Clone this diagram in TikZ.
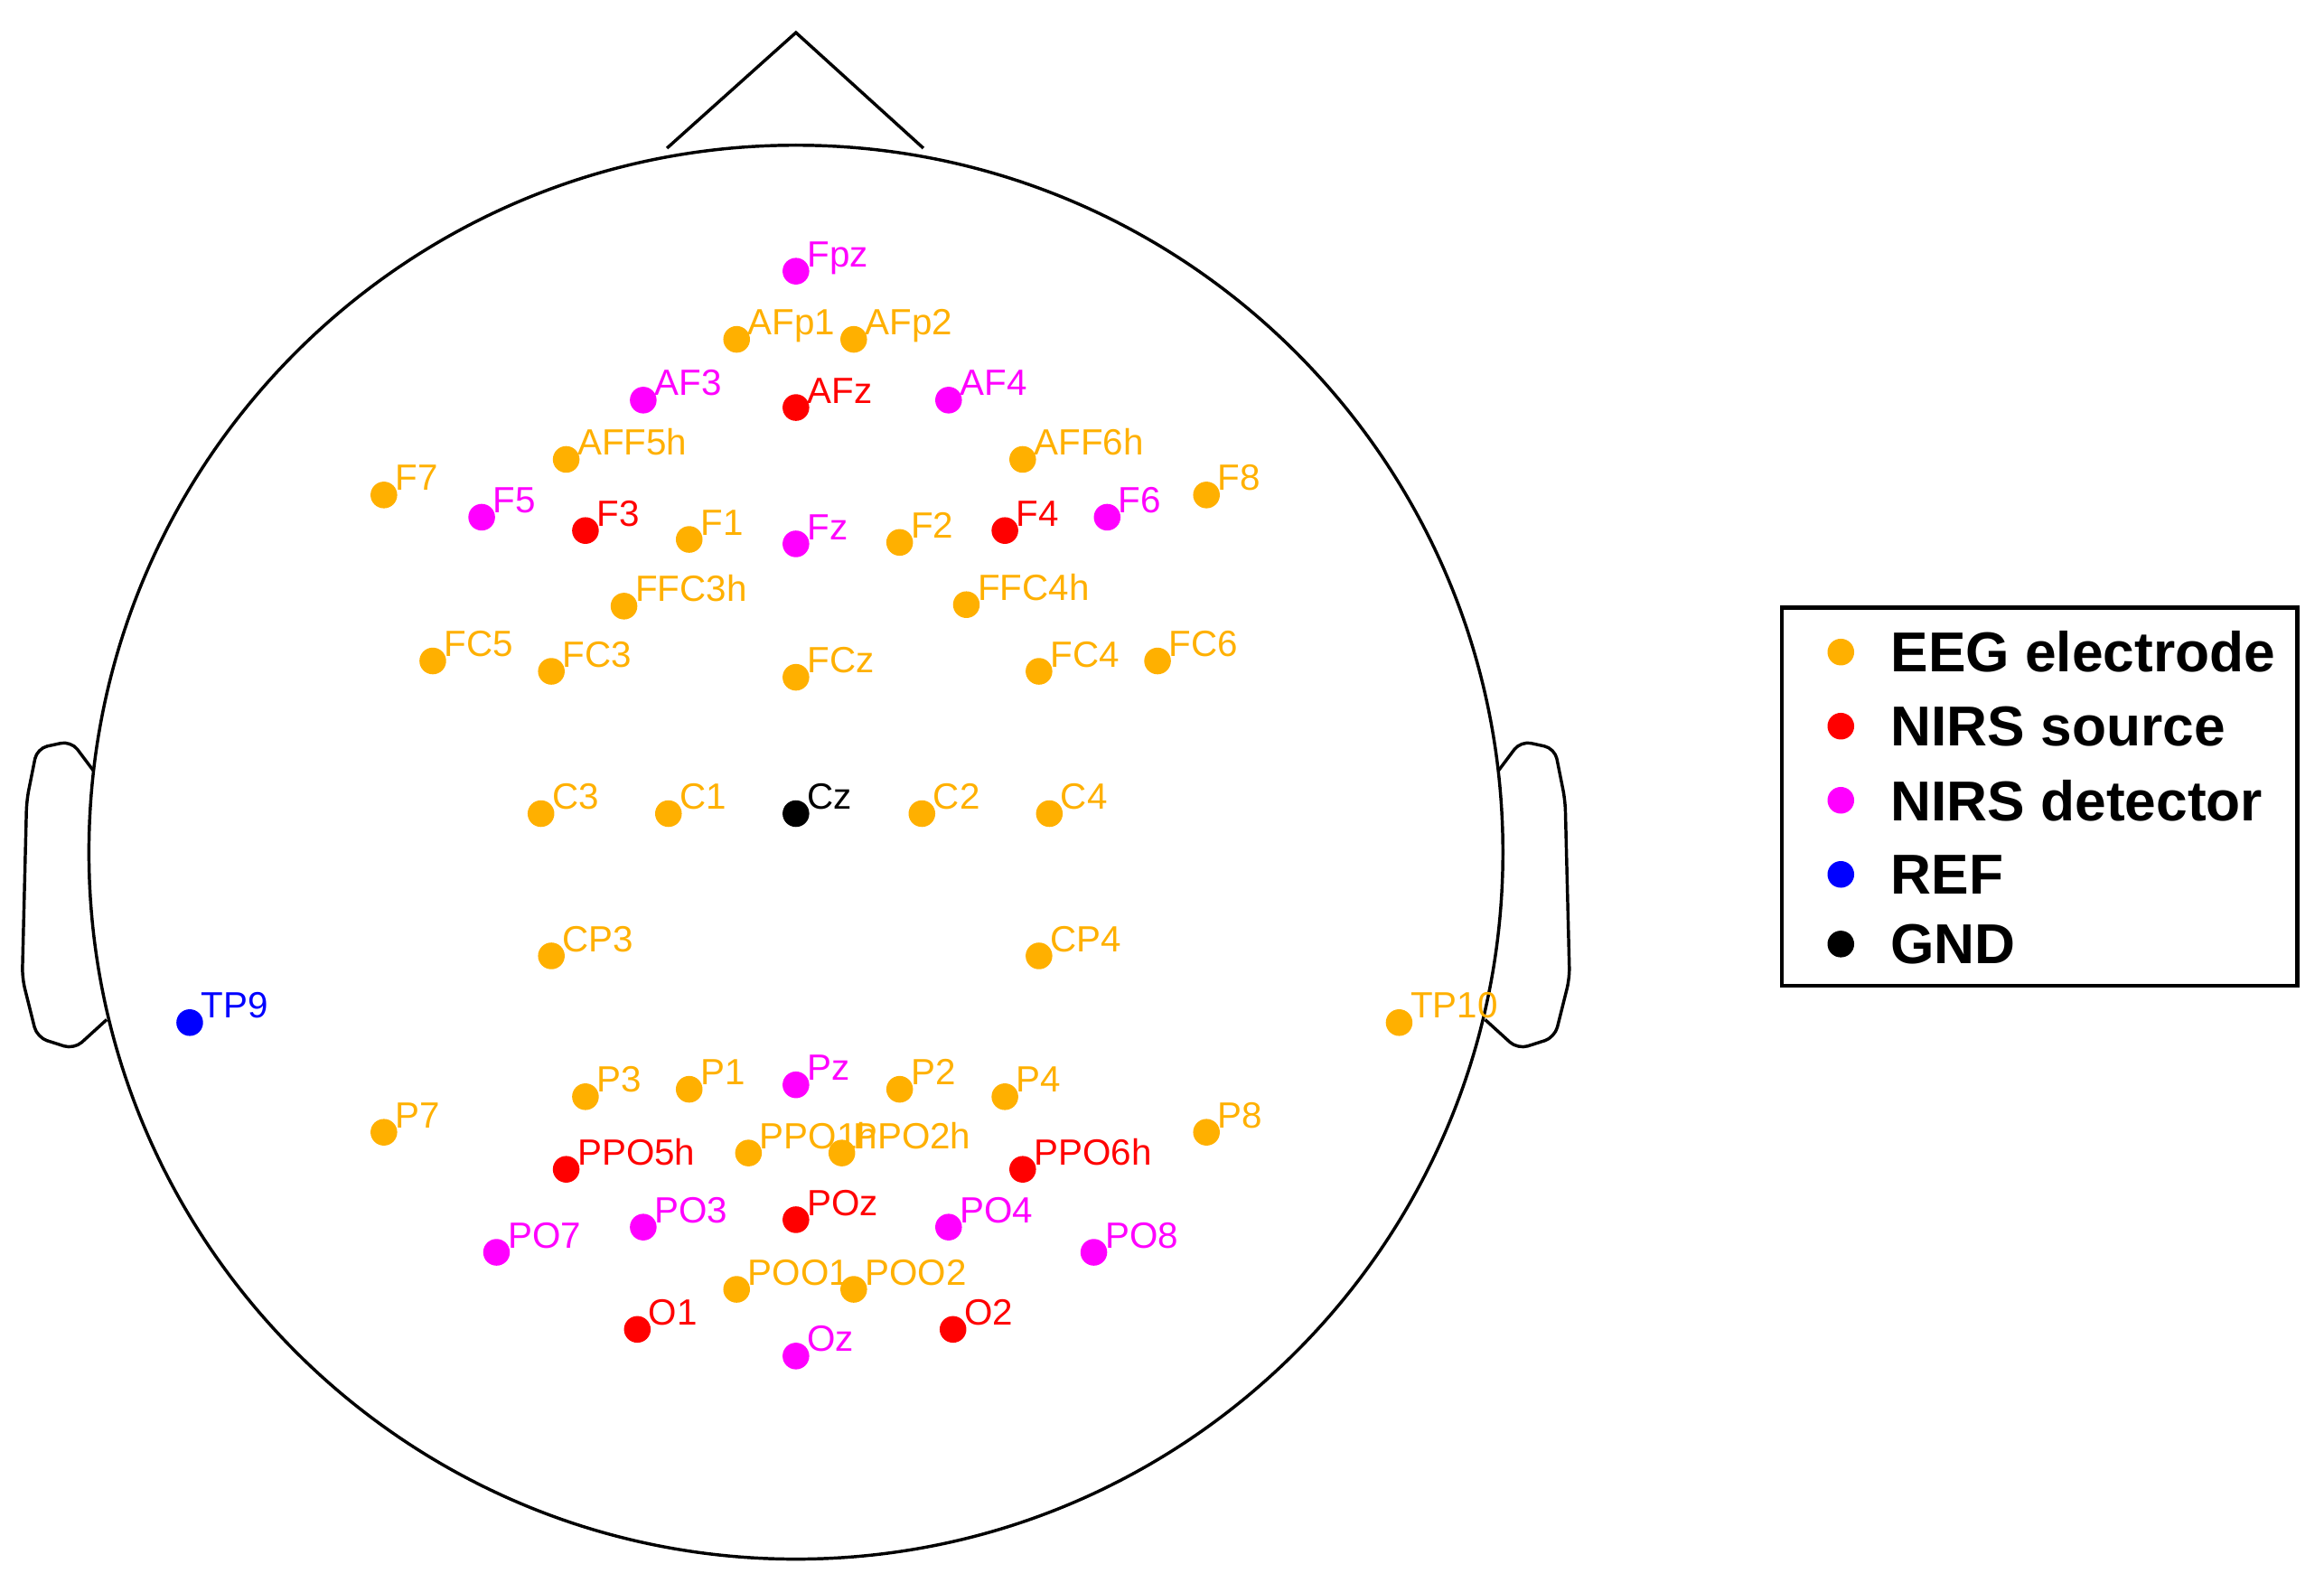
\documentclass[tikz,border=0pt]{standalone}
\usepackage{fontspec}
\setmainfont{Liberation Sans}
\definecolor{eegorange}{RGB}{255,176,0}
\definecolor{nirsmag}{RGB}{255,0,255}
\definecolor{nirsred}{RGB}{255,0,0}
\definecolor{refblue}{RGB}{0,0,255}

\tikzset{
    elec/.style={circle, fill=#1, inner sep=0pt, minimum size=1.8mm},
    elabel/.style={anchor=base west, inner sep=0pt, font=\fontsize{7}{8}\selectfont, text=#1},
    legtext/.style={anchor=west, inner sep=0pt, font=\fontsize{10.8}{12}\selectfont\bfseries}
}

\begin{document}
\begin{tikzpicture}[x=0.1mm, y=-0.1mm]
    \useasboundingbox (0,0) rectangle (1568,1074);

    % Head, nose and ears
    \draw[line width=0.6pt] (537,575) circle (477);
    \draw[line width=0.6pt] (450,100) -- (537,22) -- (623,100);
    \draw[line width=0.6pt, rounded corners=2pt] (63,520) -- (48,500) -- (25,505) -- (18,540) -- (15,660) -- (25,700) -- (50,708) -- (72,688);
    \draw[line width=0.6pt, rounded corners=2pt] (1011,520) -- (1026,500) -- (1049,505) -- (1056,540) -- (1059,660) -- (1049,700) -- (1024,708) -- (1002,688);

    % Electrodes
    \foreach \px/\py/\c/\t in {
        537/183/nirsmag/Fpz, 497/229/eegorange/AFp1, 576/229/eegorange/AFp2,
        434/270/nirsmag/AF3, 537/275/nirsred/AFz, 640/270/nirsmag/AF4,
        382/310/eegorange/AFF5h, 690/310/eegorange/AFF6h,
        259/334/eegorange/F7, 814/334/eegorange/F8,
        325/349/nirsmag/F5, 395/358/nirsred/F3, 465/364/eegorange/F1, 537/367/nirsmag/Fz,
        607/366/eegorange/F2, 678/358/nirsred/F4, 747/349/nirsmag/F6,
        421/409/eegorange/FFC3h, 652/408/eegorange/FFC4h,
        292/446/eegorange/FC5, 372/453/eegorange/FC3, 537/457/eegorange/FCz,
        701/453/eegorange/FC4, 781/446/eegorange/FC6,
        365/549/eegorange/C3, 451/549/eegorange/C1, 537/549/black/Cz,
        622/549/eegorange/C2, 708/549/eegorange/C4,
        372/645/eegorange/CP3, 701/645/eegorange/CP4,
        128/690/refblue/TP9, 944/690/eegorange/TP10,
        259/764/eegorange/P7, 395/740/eegorange/P3, 465/735/eegorange/P1, 537/732/nirsmag/Pz,
        607/735/eegorange/P2, 678/740/eegorange/P4, 814/764/eegorange/P8,
        382/789/nirsred/PPO5h, 505/778/eegorange/PPO1h, 568/778/eegorange/PPO2h, 690/789/nirsred/PPO6h,
        335/845/nirsmag/PO7, 434/828/nirsmag/PO3, 537/823/nirsred/POz, 640/828/nirsmag/PO4, 738/845/nirsmag/PO8,
        497/870/eegorange/POO1, 576/870/eegorange/POO2,
        430/897/nirsred/O1, 643/897/nirsred/O2, 537/915/nirsmag/Oz}
    {
        \node[elec=\c] (e-\t) at (\px,\py) {};
        \node[elabel=\c] (l-\t) at (\px+7,\py-3) {\t};
    }

    % Legend
    \draw[line width=0.7pt] (1202,410) rectangle (1550,665);
    \foreach \py/\c/\t [count=\i] in {
        440/eegorange/EEG electrode, 490/nirsred/NIRS source, 540/nirsmag/NIRS detector,
        590/refblue/REF, 637/black/GND}
    {
        \node[elec=\c] (k-\i) at (1242,\py) {};
        \node[legtext] (t-\i) at (1275,\py) {\t};
    }
\end{tikzpicture}
\end{document}
